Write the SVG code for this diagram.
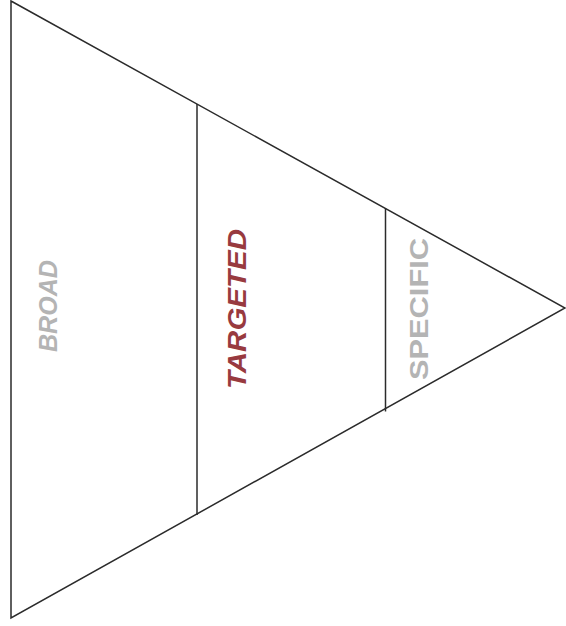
<svg xmlns="http://www.w3.org/2000/svg" width="566" height="626" viewBox="0 0 566 626">
<style>
.ln{stroke:#2b2b2b;stroke-width:1.5;fill:none;stroke-linejoin:miter}
.t{font-family:"Liberation Sans",Arial,sans-serif;font-weight:bold;font-size:25px;text-anchor:middle}
.gray{fill:#b4b4b4}
.red{fill:#983a3f}
</style>
<rect width="566" height="626" fill="#ffffff"/>
<g id="connectors">
<path class="ln" d="M11,1 L565,308 L11,618 Z"/>
<line class="ln" x1="197" y1="104" x2="197" y2="515"/>
<line class="ln" x1="385.5" y1="208.5" x2="385.5" y2="411.5"/>
</g>
<g id="broad">
<text class="t gray" font-style="italic" transform="translate(57,306) rotate(-90)" textLength="92" lengthAdjust="spacingAndGlyphs">BROAD</text>
</g>
<g id="targeted">
<text class="t red" font-style="italic" transform="translate(246,309) rotate(-90)" textLength="160" lengthAdjust="spacingAndGlyphs">TARGETED</text>
</g>
<g id="specific">
<text class="t gray" transform="translate(428,309) rotate(-90)" textLength="142" lengthAdjust="spacingAndGlyphs">SPECIFIC</text>
</g>
</svg>
